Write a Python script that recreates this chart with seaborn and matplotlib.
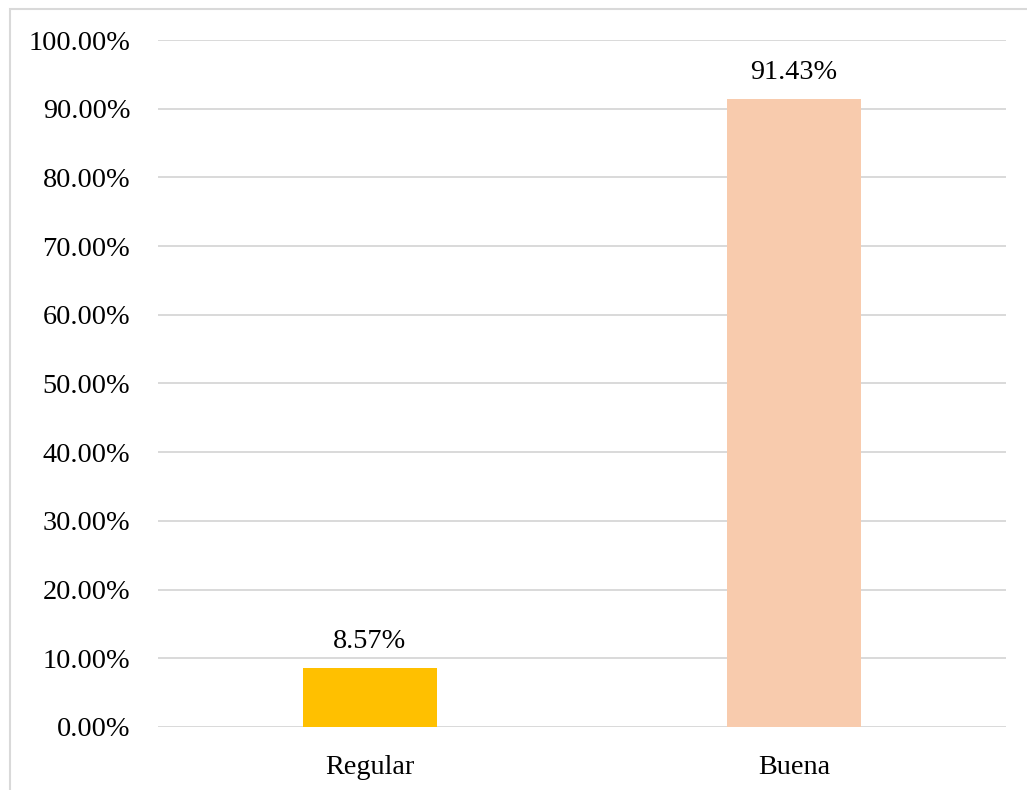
import matplotlib
matplotlib.use("Agg")
import matplotlib.pyplot as plt
import seaborn as sns
import pandas as pd
from matplotlib.patches import Rectangle
from matplotlib.ticker import FuncFormatter, MultipleLocator

categories = ["Regular", "Buena"]
values = [0.0857, 0.9143]
colors = ["#FFC000", "#F8CBAD"]

sns.set_theme(style="white")
plt.rcParams['font.family'] = ['Liberation Serif', 'DejaVu Serif']

fig = plt.figure(figsize=(10.27, 7.90), dpi=100)
ax = fig.add_axes([158/1027, 1-727/790, (1006-158)/1027, (727-40)/790])

df = pd.DataFrame({"cat": categories, "val": values})
sns.barplot(data=df, x="cat", y="val", hue="cat", palette=colors, legend=False,
            width=0.316, ax=ax, saturation=1, linewidth=0)

ax.set_ylim(0, 1.0)
ax.set_xlim(-0.5, 1.5)
ax.yaxis.set_major_locator(MultipleLocator(0.1))
ax.yaxis.set_major_formatter(FuncFormatter(lambda v, p: f"{v*100:.2f}%"))
ax.grid(axis="y", color="#d9d9d9", linewidth=1.4)
ax.set_axisbelow(True)
for s in ax.spines.values():
    s.set_visible(False)
ax.tick_params(axis="both", length=0, labelsize=20.3, colors="#000000")
ax.tick_params(axis="x", pad=20)
ax.tick_params(axis="y", pad=20)
ax.set_xlabel("")
ax.set_ylabel("")

for i, v in enumerate(values):
    ax.annotate(f"{v*100:.2f}%", (i, v), xytext=(0, 10), textcoords="offset points",
                ha="center", va="bottom", fontsize=20.3, color="#000000")

fig.patches.append(Rectangle((10/1027, -0.1), 1.2, 1 - 9/790 + 0.1, transform=fig.transFigure,
                             fill=False, edgecolor="#d9d9d9", linewidth=1.5))

fig.savefig("out.png", dpi=100)
